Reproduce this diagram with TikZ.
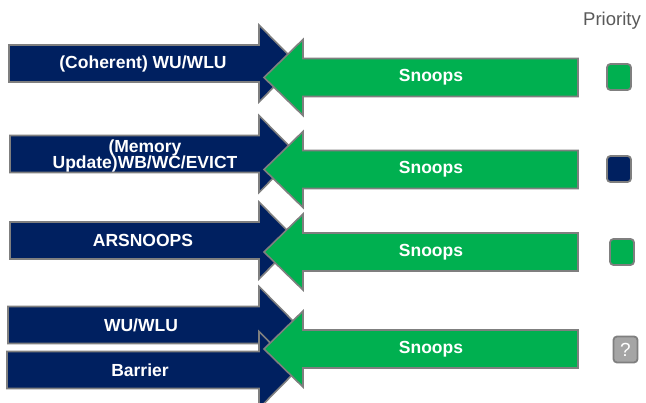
\documentclass[tikz,border=0pt]{standalone}
\usepackage{fontspec}
\setmainfont{Liberation Sans}

\definecolor{navy}{HTML}{002060}
\definecolor{sgreen}{HTML}{00B050}
\definecolor{rim}{HTML}{7F7F7F}
\definecolor{qgray}{HTML}{A5A5A5}
\definecolor{captiongray}{HTML}{595959}

\tikzset{
  shaft/.style={draw=rim, line width=1.6pt, line join=miter},
  navyshaft/.style={shaft, fill=navy},
  greenshaft/.style={shaft, fill=sgreen},
  arrowtext/.style={text=white, align=center, inner sep=0pt,
    font=\fontsize{17.5}{16.5}\selectfont\bfseries},
  prio/.style={draw=rim, line width=1.8pt, rounded corners=3.5pt,
    minimum width=24pt, minimum height=26pt, inner sep=0pt},
}

% request arrow pointing right: left end x, centre y
\newcommand\navyarrow[2]{%
  \path[navyshaft] (#1,#2-18.5) -- (259,#2-18.5) -- (259,#2-38.5) -- (297,#2)
    -- (259,#2+38.5) -- (259,#2+18.5) -- (#1,#2+18.5) -- cycle;}
% snoop arrow pointing left: centre y
\newcommand\snooparrow[1]{%
  \path[greenshaft] (578,#1-19) -- (303,#1-19) -- (303,#1-38) -- (264,#1)
    -- (303,#1+38) -- (303,#1+19) -- (578,#1+19) -- cycle;}

\begin{document}
\begin{tikzpicture}[x=1pt,y=-1pt]
  \useasboundingbox[fill=white] (0,0) rectangle (646,403);

  % requests
  \navyarrow{9}{63.5}
  \navyarrow{10}{154}
  \navyarrow{10}{240.5}
  \navyarrow{8}{325}
  \navyarrow{7}{370}

  % snoops
  \snooparrow{77.5}
  \snooparrow{169.5}
  \snooparrow{252}
  \snooparrow{349}

  % arrow texts
  \node[arrowtext] (req1) at (143,63.5) {(Coherent) WU/WLU};
  \node[arrowtext] (req2) at (145,156) {(Memory\\Update)WB/WC/EVICT};
  \node[arrowtext] (req3) at (143,240.5) {ARSNOOPS};
  \node[arrowtext] (req4) at (141,325) {WU/WLU};
  \node[arrowtext] (req5) at (140,370) {Barrier};

  \node[arrowtext] (snp1) at (431,77.5) {Snoops};
  \node[arrowtext] (snp2) at (431,169.5) {Snoops};
  \node[arrowtext] (snp3) at (431,252) {Snoops};
  \node[arrowtext] (snp4) at (431,349) {Snoops};

  % priority column
  \node[text=captiongray, font=\fontsize{18.5}{20}\selectfont] (prioHead) at (612,21) {Priority};
  \node[prio, fill=sgreen] (prio1) at (619,77) {};
  \node[prio, fill=navy] (prio2) at (619,169) {};
  \node[prio, fill=sgreen] (prio3) at (622,252) {};
  \node[prio, fill=qgray, text=white, font=\fontsize{19}{19}\selectfont] (prio4) at (625.5,349.5) {?};
\end{tikzpicture}
\end{document}
